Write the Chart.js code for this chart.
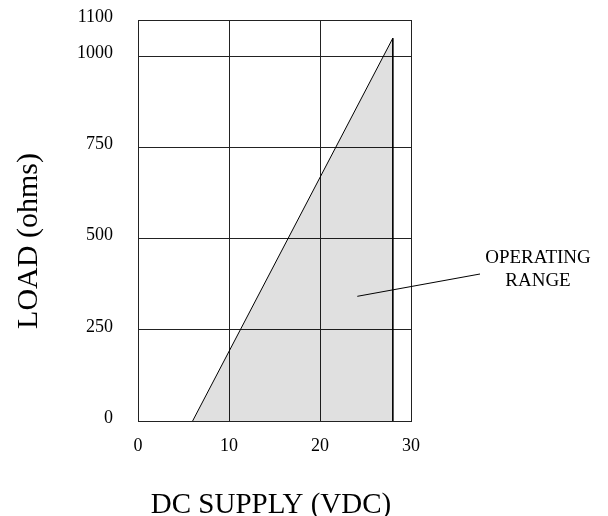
<!DOCTYPE html>
<html>
<head>
<meta charset="utf-8">
<script src="https://cdn.jsdelivr.net/npm/chart.js@4/dist/chart.umd.min.js"></script>
<style>
  html, body { margin: 0; padding: 0; background: #fff; }
  #wrap { width: 608px; height: 516px; }
</style>
</head>
<body>
<div id="wrap"><canvas id="loadChart"></canvas></div>
<script>
// operating range outline (supply volts, load ohms)
var supplyVolts = [6, 28, 28];
var loadOhms = [0, 1050, 0];
var xTicks = [0, 10, 20, 30];
var yTicks = [0, 250, 500, 750, 1000, 1100];

var serif = "'Liberation Serif', 'Times New Roman', serif";
var gridColor = '#222';

var points = supplyVolts.map(function (v, i) { return { x: v, y: loadOhms[i] }; });

function noPad(s) {
  s.paddingTop = 0; s.paddingBottom = 0; s.paddingLeft = 0; s.paddingRight = 0;
}

// axis titles + the "operating range" callout
var extraText = {
  id: 'extraText',
  afterDraw: function (chart) {
    var ctx = chart.ctx;
    var xs = chart.scales.x, ys = chart.scales.y;
    ctx.save();
    ctx.fillStyle = '#000';
    ctx.font = '29px ' + serif;
    ctx.textAlign = 'center';
    ctx.textBaseline = 'alphabetic';
    ctx.fillText('DC SUPPLY (VDC)', 271, 513);

    ctx.translate(37, 241);
    ctx.rotate(-Math.PI / 2);
    ctx.font = '30px ' + serif;
    ctx.fillText('LOAD (ohms)', 0, 0);
    ctx.restore();

    ctx.save();
    ctx.strokeStyle = '#000';
    ctx.lineWidth = 1;
    ctx.beginPath();
    ctx.moveTo(xs.getPixelForValue(24.1), ys.getPixelForValue(342));
    ctx.lineTo(480, 274);
    ctx.stroke();
    ctx.fillStyle = '#000';
    ctx.font = '19px ' + serif;
    ctx.textAlign = 'center';
    ctx.fillText('OPERATING', 538, 263);
    ctx.fillText('RANGE', 538, 286);
    ctx.restore();
  }
};

new Chart(document.getElementById('loadChart'), {
  type: 'line',
  data: {
    datasets: [{
      data: points,
      borderColor: '#000',
      borderWidth: 1,
      backgroundColor: 'rgba(0,0,0,0.12)',
      fill: 'origin',
      pointRadius: 0,
      tension: 0
    }]
  },
  options: {
    responsive: true,
    maintainAspectRatio: false,
    animation: false,
    layout: { padding: { top: 20, right: 197, left: 0, bottom: 0 } },
    plugins: { legend: { display: false }, tooltip: { enabled: false } },
    scales: {
      x: {
        type: 'linear',
        min: 0,
        max: 30,
        afterBuildTicks: function (s) { s.ticks = xTicks.map(function (v) { return { value: v }; }); },
        afterFit: function (s) { s.height = 95; noPad(s); },
        grid: { color: gridColor, drawTicks: false },
        border: { color: gridColor },
        ticks: { color: '#000', padding: 14, font: { family: serif, size: 18 },
                 callback: function (v) { return String(v); } }
      },
      y: {
        min: 0,
        max: 1100,
        afterBuildTicks: function (s) { s.ticks = yTicks.map(function (v) { return { value: v }; }); },
        afterFit: function (s) { s.width = 138; noPad(s); },
        grid: { color: gridColor, drawTicks: false },
        border: { color: gridColor },
        ticks: { color: '#000', padding: 25, labelOffset: -3, font: { family: serif, size: 18 },
                 callback: function (v) { return String(v); } }
      }
    }
  },
  plugins: [extraText]
});
</script>
</body>
</html>
